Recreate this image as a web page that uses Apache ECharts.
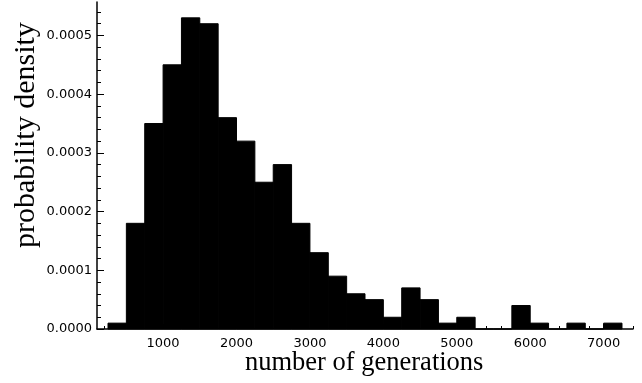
<!DOCTYPE html>
<html>
<head>
<meta charset="utf-8">
<script src="https://cdn.jsdelivr.net/npm/echarts@6/dist/echarts.min.js"></script>
<style>
  html, body { margin: 0; padding: 0; background: #fff; }
  #chart { width: 642px; height: 383px; }
</style>
</head>
<body>
<div id="chart"></div>
<script>
// Histogram of generation counts (bin width 250)
const binWidth = 250;
const binStarts = [250, 500, 750, 1000, 1250, 1500, 1750, 2000, 2250, 2500, 2750, 3000, 3250, 3500,
                   3750, 4000, 4250, 4500, 4750, 5000, 5250, 5500, 5750, 6000, 6250, 6500, 6750, 7000];
const densities = [0.00001, 0.00018, 0.00035, 0.00045, 0.00053, 0.00052, 0.00036, 0.00032, 0.00025, 0.00028,
                   0.00018, 0.00013, 0.00009, 0.00006, 0.00005, 0.00002, 0.00007, 0.00005, 0.00001, 0.00002,
                   0, 0, 0.00004, 0.00001, 0, 0.00001, 0, 0.00001];

// Axis ticks
const xMajorTicks = [1000, 2000, 3000, 4000, 5000, 6000, 7000];
const yMajorTicks = [0, 0.0001, 0.0002, 0.0003, 0.0004, 0.0005];
const xMinorStep = 200;
const yMinorStep = 0.00002;

const xRange = [100, 7400];
const yRange = [0, 0.000557];

const xMinorTicks = [];
for (let v = xMinorStep; v <= xRange[1]; v += xMinorStep) xMinorTicks.push(v);
const yMinorTicks = [];
for (let i = 0; i * yMinorStep <= yRange[1]; i++) yMinorTicks.push(+(i * yMinorStep).toFixed(6));

const bins = binStarts.map((s, i) => [s, s + binWidth, densities[i]]);

const tickFont = { fontFamily: 'DejaVu Sans', fontSize: 13, color: '#000' };
const titleFont = 'Liberation Serif';

const chart = echarts.init(document.getElementById('chart'), null, { renderer: 'canvas' });

const axisLine = { show: true, lineStyle: { color: '#000', width: 1.5 } };

chart.setOption({
  animation: false,
  backgroundColor: '#fff',
  grid: { left: 97, right: 9, top: 2, bottom: 54, containLabel: false },
  xAxis: [
    {
      type: 'value', min: xRange[0], max: xRange[1],
      axisLine: axisLine,
      axisTick: { show: true, inside: true, length: 5, customValues: xMajorTicks, lineStyle: { color: '#000', width: 1 } },
      axisLabel: Object.assign({ customValues: xMajorTicks, margin: 8, formatter: v => String(v) }, tickFont),
      splitLine: { show: false }
    },
    {
      type: 'value', min: xRange[0], max: xRange[1], position: 'bottom',
      axisLine: { show: false },
      axisTick: { show: true, inside: true, length: 3, customValues: xMinorTicks, lineStyle: { color: '#000', width: 1 } },
      axisLabel: { show: false },
      splitLine: { show: false }
    }
  ],
  yAxis: [
    {
      type: 'value', min: yRange[0], max: yRange[1],
      axisLine: axisLine,
      axisTick: { show: true, inside: true, length: 7, customValues: yMajorTicks, lineStyle: { color: '#000', width: 1 } },
      axisLabel: Object.assign({ customValues: yMajorTicks, margin: 5, formatter: v => v.toFixed(4) }, tickFont),
      splitLine: { show: false }
    },
    {
      type: 'value', min: yRange[0], max: yRange[1], position: 'left',
      axisLine: { show: false },
      axisTick: { show: true, inside: true, length: 4, customValues: yMinorTicks, lineStyle: { color: '#000', width: 1 } },
      axisLabel: { show: false },
      splitLine: { show: false }
    }
  ],
  series: [{
    type: 'custom',
    xAxisIndex: 0,
    yAxisIndex: 0,
    data: bins,
    renderItem: function (params, api) {
      const p0 = api.coord([api.value(0), api.value(2)]);
      const p1 = api.coord([api.value(1), 0]);
      return {
        type: 'rect',
        shape: { x: p0[0], y: p0[1], width: p1[0] - p0[0], height: p1[1] - p0[1] },
        style: { fill: '#000', stroke: '#000', lineWidth: 1 }
      };
    }
  }],
  graphic: [
    {
      type: 'text', left: 245, top: 350, z: 10,
      style: { text: 'number of generations', font: '26.5px "' + titleFont + '"', fill: '#000' }
    },
    {
      type: 'text', x: 11, y: 248, rotation: Math.PI / 2, z: 10,
      style: { text: 'probability density', font: '30px "' + titleFont + '"', fill: '#000', textVerticalAlign: 'top' }
    }
  ]
});
</script>
</body>
</html>
